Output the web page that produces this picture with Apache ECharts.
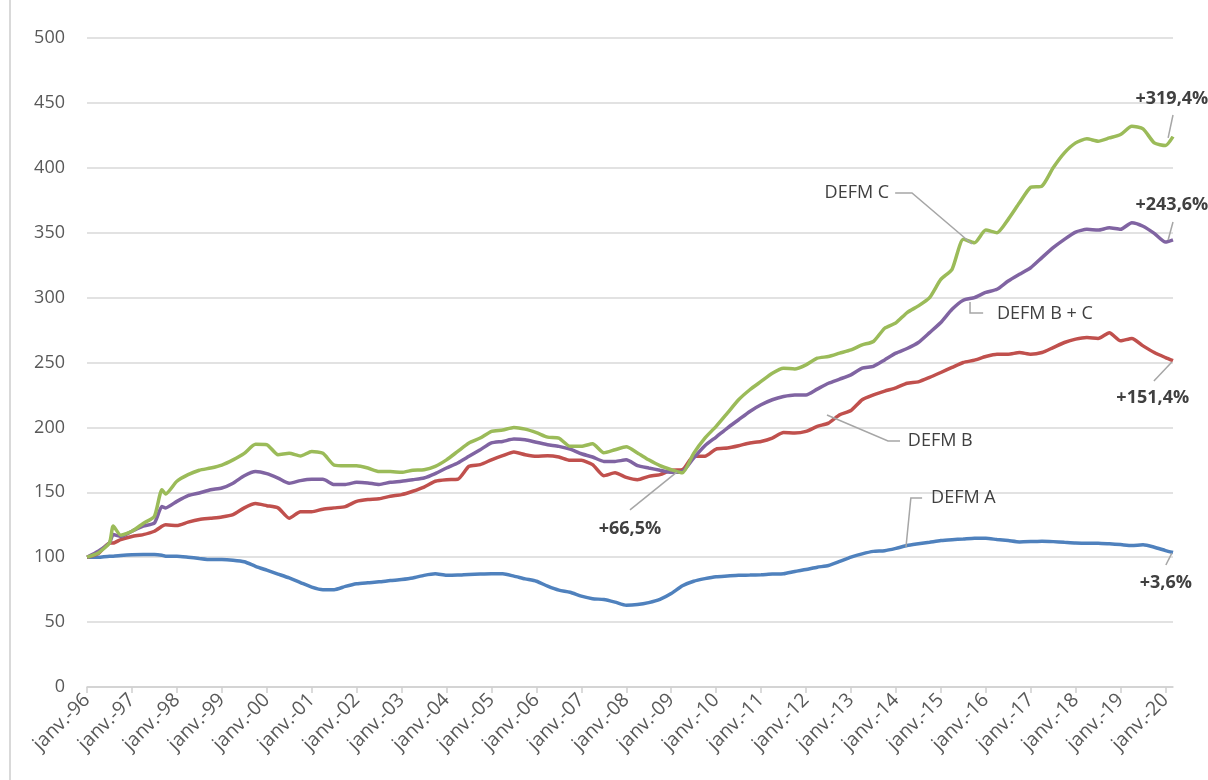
<!DOCTYPE html>
<html>
<head>
<meta charset="utf-8">
<script src="https://cdn.jsdelivr.net/npm/echarts@6/dist/echarts.min.js"></script>
<style>
  html, body { margin: 0; padding: 0; background: #fff; }
  #chart { width: 1208px; height: 780px; }
</style>
</head>
<body>
<div id="chart"></div>
<script>
// x = months since janv.-96
var months = [0, 3, 6, 7, 9, 12, 15, 18, 20, 21, 24, 27, 30, 33, 36, 39, 42, 45, 48, 51, 54, 57, 60, 63, 66, 69,
  72, 75, 78, 81, 84, 87, 90, 93, 96, 99, 102, 105, 108, 111, 114, 117, 120, 123, 126, 129, 132, 135, 138, 141,
  144, 147, 150, 153, 156, 159, 162, 165, 168, 171, 174, 177, 180, 183, 186, 189, 192, 195, 198, 201, 204, 207,
  210, 213, 216, 219, 222, 225, 228, 231, 234, 237, 240, 243, 246, 249, 252, 255, 258, 261, 264, 267, 270, 273,
  276, 279, 282, 285, 288, 290];

var defmA = [100, 100, 100.8, 100.8, 101.3, 101.8, 102, 102, 101.5, 100.8, 100.8, 100, 99, 98.2, 98.2, 97.7, 96.5,
  93, 90, 87, 84, 80.5, 77, 75, 75, 77.5,
  79.5, 80.3, 81, 82, 82.8, 84, 86, 87.2, 86, 86.2, 86.7, 87, 87.2, 87.2, 85.4, 83.3, 81.5, 77.7, 74.6, 73, 70, 68,
  67.4, 65.4,
  63, 63.5, 65, 67.5, 72, 78, 81.5, 83.5, 85, 85.5, 86, 86.2, 86.5, 87, 87.2, 89, 90.5, 92.3, 93.6, 96.7, 100, 102.6,
  104.5, 105, 106.8, 109, 110.3, 111.5, 112.8, 113.5, 114, 114.6, 114.6, 113.6, 112.8, 111.8, 112, 112.3, 112, 111.5,
  111, 110.8, 110.8, 110.3,
  109.7, 109, 109.5, 107.7, 105.1, 103.6];

var defmB = [100, 102.8, 111, 111, 113.6, 116, 117.4, 120, 123.8, 125, 124.4, 127, 129, 130, 131, 132.8, 138, 141.3,
  139.7, 138, 130, 135, 135, 137, 138, 139,
  143, 144.4, 145, 147, 148.2, 150.8, 154, 158.5, 159.7, 160, 170, 171.3, 175, 178.2, 181, 179, 177.7, 178.2, 177.2,
  174.6, 174.6, 171.3, 162.8, 165,
  161.5, 159.7, 162.3, 163.6, 167, 167.4, 177.7, 177.7, 183.3, 184.1, 185.9, 188, 189.2, 191.8, 196, 195.6, 196.9,
  200.8, 203.3, 209.7, 213, 221.3,
  225, 228, 230.5, 234, 235.1, 238.5, 242.3, 246.2, 250, 251.8, 254.6, 256.4, 256.4, 257.7, 256.4, 257.7, 261.5,
  265.4, 268, 269.2, 268.5, 273,
  266.7, 268.5, 262.8, 257.7, 253.8, 251.4];

var defmBC = [100, 104.6, 111, 117.4, 116, 120, 124, 126.4, 139, 138, 143, 147.4, 149.5, 152, 153.3, 157, 162.8, 166,
  164.4, 161, 157, 159, 160, 160, 156, 156,
  157.7, 157.2, 156, 157.7, 158.5, 159.7, 161, 164.4, 168.7, 172.6, 177.7, 182.8, 188, 189.2, 191, 190.5, 188.5,
  186.7, 185.4, 183.3, 179.7, 177.2, 173.8, 173.8,
  175, 170.5, 168.7, 167, 165.4, 166, 176.4, 185.9, 192.6, 199.5, 205.9, 212.3, 217.4, 221.3, 223.8, 225, 225,
  229.5, 234, 237.2, 240.5, 245.6,
  247, 252, 257.2, 260.8, 265.4, 273, 280.8, 291, 298, 300, 304, 306.4, 312.8, 318, 323, 330.8, 338.5, 344.9, 350.5,
  352.6, 352, 353.8,
  352.6, 357.7, 355, 349.5, 342.8, 344.5];

var defmC = [100, 103.3, 111, 124, 117, 120, 126, 131.5, 152, 148.7, 158.5, 163.6, 167, 168.7, 171, 175, 180, 187,
  186.7, 179, 180, 178, 181.5, 180, 171, 170.5,
  170.5, 168.7, 166, 166, 165.4, 167, 167.4, 170, 175, 181.5, 188, 191.8, 197, 198, 200, 198.7, 196, 192.5, 191.8,
  185.4, 185.4, 187.4, 180.5, 182.8,
  185, 180.3, 175, 170.5, 167.4, 165, 180, 191.8, 200.8, 211, 221.3, 229, 235.4, 241.8, 245.6, 245, 248.2, 253.3,
  254.6, 257.2, 259.7, 263.6,
  266.2, 276.4, 280.5, 288.5, 293.6, 300, 314, 321.8, 344.9, 342.3, 352, 350, 360.3, 373, 385, 385.9, 400, 411.5,
  419.2, 422.3, 420.5, 423,
  425.6, 432, 430, 419.2, 417.2, 424];

var tickMonths = [0, 12, 24, 36, 48, 60, 72, 84, 96, 108, 120, 132, 144, 156, 168, 180, 192, 204, 216, 228, 240,
  252, 264, 276, 288];
var yearLabels = ['96', '97', '98', '99', '00', '01', '02', '03', '04', '05', '06', '07', '08', '09', '10', '11',
  '12', '13', '14', '15', '16', '17', '18', '19', '20'];

// callouts, in data coordinates [month, value]
var notes = [
  { text: 'DEFM C', at: [214.2, 380.6], align: 'right', bold: false,
    leader: [[215.8, 380.6], [220.3, 380.6], [236.3, 341.3]] },
  { text: 'DEFM B + C', at: [243.0, 287.4], align: 'left', bold: false,
    leader: [[235.8, 296.6], [235.8, 288.1], [239.3, 288.1]] },
  { text: 'DEFM B', at: [219.2, 189.5], align: 'left', bold: false,
    leader: [[197.6, 209.6], [213.9, 189.5], [217.1, 189.5]] },
  { text: 'DEFM A', at: [225.4, 145.6], align: 'left', bold: false,
    leader: [[218.7, 107.9], [220.0, 145.6], [223.0, 145.6]] },
  { text: '+319,4%', at: [289.7, 453], align: 'center', bold: true,
    leader: [[290, 440.7], [288.7, 423]] },
  { text: '+243,6%', at: [289.7, 371.3], align: 'center', bold: true,
    leader: [[290, 358.2], [288.7, 344.4]] },
  { text: '+151,4%', at: [284.6, 222.6], align: 'center', bold: true,
    leader: [[289.7, 250.4], [284.9, 235.7]] },
  { text: '+3,6%', at: [288.1, 80.1], align: 'center', bold: true,
    leader: [[289.7, 103.2], [288.1, 94]] },
  { text: '+66,5%', at: [145, 121.7], align: 'center', bold: true,
    leader: [[145, 136.4], [157.5, 165.6]] }
];

function pairs(values) {
  return months.map(function (m, i) { return [m, values[i]]; });
}

function lineSeries(name, values, color) {
  return {
    name: name,
    type: 'line',
    data: pairs(values),
    showSymbol: false,
    smooth: 0.2,
    lineStyle: { color: color, width: 3.5 },
    itemStyle: { color: color }
  };
}

var FONT = '"Open Sans", "Noto Sans", sans-serif';
var chart = echarts.init(document.getElementById('chart'));

chart.setOption({
  backgroundColor: '#ffffff',
  animation: false,
  grid: { left: 87, right: 35, top: 38, bottom: 93, containLabel: false, outerBoundsMode: 'none' },
  xAxis: {
    type: 'value',
    min: 0,
    max: 290,
    interval: 12,
    axisLine: { show: true, lineStyle: { color: '#d0d0d0', width: 1.5 } },
    axisTick: { show: true, length: 6, lineStyle: { color: '#d0d0d0', width: 1.5 }, customValues: tickMonths },
    splitLine: { show: false },
    axisLabel: {
      rotate: 45,
      margin: 10,
      color: '#595959',
      fontFamily: FONT,
      fontSize: 19.5,
      customValues: tickMonths,
      formatter: function (v) {
        var i = Math.round(v / 12);
        return 'janv.-' + yearLabels[i];
      }
    }
  },
  yAxis: {
    type: 'value',
    min: 0,
    max: 500,
    interval: 50,
    axisLine: { show: false },
    axisTick: { show: false },
    splitLine: { lineStyle: { color: '#d9d9d9', width: 1.5 } },
    axisLabel: { color: '#595959', fontFamily: FONT, fontSize: 18, margin: 22 }
  },
  series: [
    lineSeries('DEFM A', defmA, '#4f81bd'),
    lineSeries('DEFM B', defmB, '#c0504d'),
    lineSeries('DEFM B + C', defmBC, '#8064a2'),
    lineSeries('DEFM C', defmC, '#9bbb59')
  ]
});

// callout texts and leader lines placed through the grid's own scales
var graphics = [
  { type: 'line', shape: { x1: 10, y1: 0, x2: 10, y2: 780 }, style: { stroke: '#d9d9d9', lineWidth: 2 }, silent: true }
];
notes.forEach(function (n) {
  var pts = n.leader.map(function (p) { return chart.convertToPixel({ gridIndex: 0 }, p); });
  graphics.push({
    type: 'polyline',
    shape: { points: pts },
    style: { stroke: '#a6a6a6', lineWidth: 1.5, fill: null },
    z: 10,
    silent: true
  });
  var at = chart.convertToPixel({ gridIndex: 0 }, n.at);
  graphics.push({
    type: 'text',
    x: at[0],
    y: at[1],
    style: {
      text: n.text,
      fill: '#404040',
      font: (n.bold ? 'bold ' : '') + '18px ' + FONT,
      align: n.align,
      verticalAlign: 'middle'
    },
    z: 10,
    silent: true
  });
});
chart.setOption({ graphic: graphics });
</script>
</body>
</html>
